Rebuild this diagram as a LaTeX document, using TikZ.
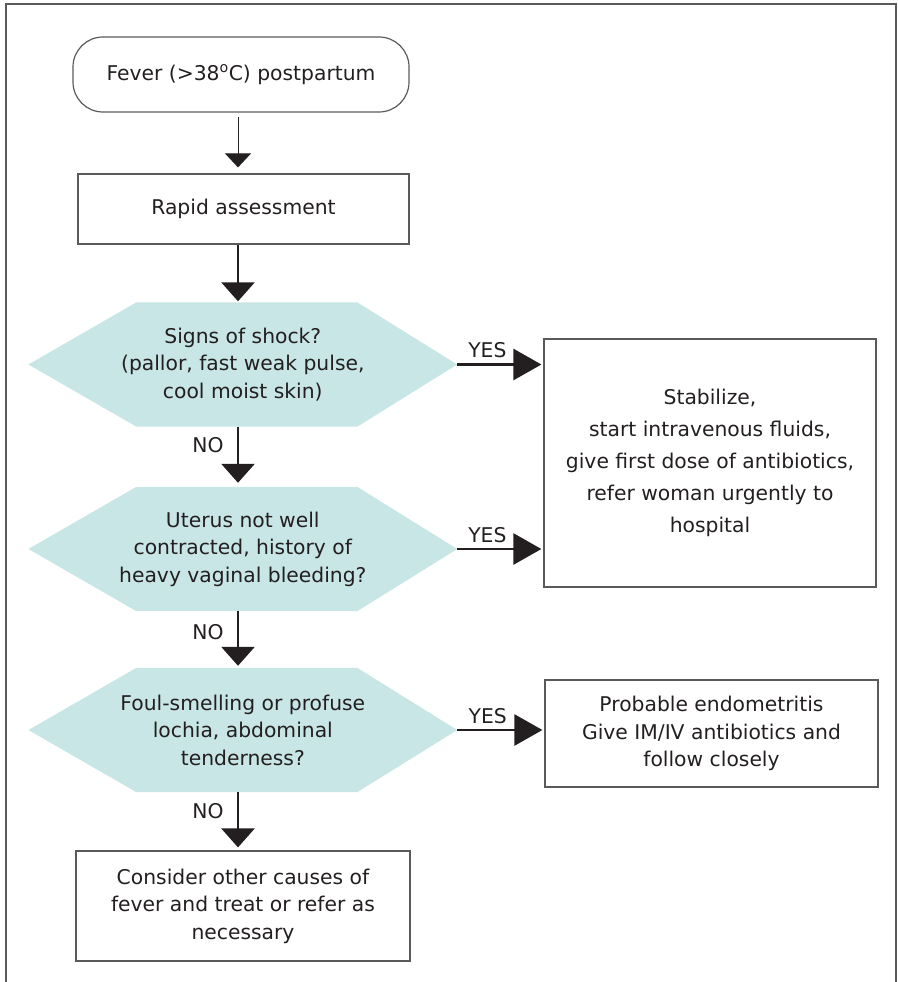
\documentclass[tikz,border=0pt]{standalone}
\usepackage{fontspec}
\setmainfont{DejaVu Sans}
\usetikzlibrary{arrows.meta,calc,backgrounds}
\definecolor{ink}{HTML}{231F20}
\definecolor{edgegray}{HTML}{5A5A5A}
\definecolor{qfill}{HTML}{C8E6E5}
\begin{document}
\begin{tikzpicture}[x=1pt,y=-1pt,
  every node/.style={font=\fontsize{20.3}{27.5}\selectfont, text=ink, align=center, inner sep=0pt},
  box/.style={draw=edgegray, line width=1.2pt},
  question/.style={minimum width=428.4pt, minimum height=124pt},
  thinarr/.style={draw=ink, line width=1pt, -{Triangle[width=26pt,length=14pt]}},
  downarr/.style={draw=ink, line width=2.7pt, -{Triangle[width=33pt,length=19pt]}},
  yesarr/.style={draw=ink, line width=2.7pt, -{Triangle[width=31pt,length=28pt]}},
  lbl/.style={font=\fontsize{20.3}{24}\selectfont}
]
\useasboundingbox (0,0) rectangle (897,982);

% outer frame, open at the bottom
\draw[edgegray, line width=2pt] (6,982) -- (6,4) -- (895.5,4) -- (895.5,982);

\coordinate (spine) at (238,0);

% start terminal and steps
\node[box, rounded corners=30pt, minimum width=336pt, minimum height=75pt]
  (term) at (241,74.5) {Fever (>38\textsuperscript{o}C) postpartum};
\node[box, minimum width=331pt, minimum height=70pt]
  (rapid) at (243.5,209) {Rapid assessment};

% decision hexagons
\node[question] (q1) at (242.8,364.5)
  {Signs of shock?\\(pallor, fast weak pulse,\\cool moist skin)};
\node[question] (q2) at (242.8,549)
  {Uterus not well\\contracted, history of\\heavy vaginal bleeding?};
\node[question] (q3) at (242.8,730)
  {Foul-smelling or profuse\\lochia, abdominal\\tenderness?};

\begin{scope}[on background layer]
  \foreach \q in {q1,q2,q3}{
    \fill[qfill] (\q.west) -- ($(\q.north west)+(108,0)$) -- ($(\q.north east)+(-100,0)$)
      -- (\q.east) -- ($(\q.south east)+(-100,0)$) -- ($(\q.south west)+(108,0)$) -- cycle;
  }
\end{scope}

% outcome boxes
\node[box, minimum width=332pt, minimum height=248pt, font=\fontsize{20.3}{32}\selectfont]
  (stab) at (710,463)
  {Stabilize,\\start intravenous fluids,\\give first dose of antibiotics,\\refer woman urgently to\\hospital};
\node[box, minimum width=333pt, minimum height=107pt]
  (endo) at (711.5,733.5)
  {Probable endometritis\\Give IM/IV antibiotics and\\follow closely};
\node[box, minimum width=334pt, minimum height=110pt]
  (other) at (243,906)
  {Consider other causes of\\fever and treat or refer as\\necessary};

% connectors down the main column
\draw[thinarr, shorten <=4pt, shorten >=6pt] (term.south -| spine) -- (rapid.north -| spine);
\draw[downarr, shorten >=1pt] (rapid.south -| spine) -- (q1.north -| spine);
\draw[downarr, shorten >=4pt] (q1.south -| spine) --
  node[lbl, pos=0.3, left=13pt] {NO} (q2.north -| spine);
\draw[downarr, shorten >=2pt] (q2.south -| spine) --
  node[lbl, pos=0.37, left=13pt] {NO} (q3.north -| spine);
\draw[downarr, shorten >=3pt] (q3.south -| spine) --
  node[lbl, pos=0.32, left=13pt] {NO} (other.north -| spine);

% YES branches
\draw[yesarr, shorten >=2pt] (q1.east) --
  node[lbl, pos=0.35, above=5pt] {YES} (q1.east -| stab.west);
\draw[yesarr, shorten >=2pt] (q2.east) --
  node[lbl, pos=0.35, above=5pt] {YES} (q2.east -| stab.west);
\draw[yesarr, shorten >=2pt] (q3.east) --
  node[lbl, pos=0.35, above=5pt] {YES} (q3.east -| endo.west);
\end{tikzpicture}
\end{document}
